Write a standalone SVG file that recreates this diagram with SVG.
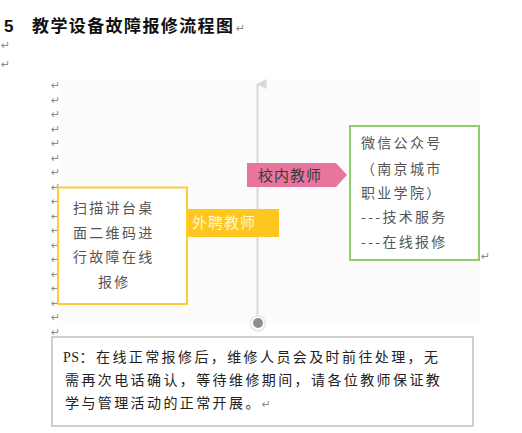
<svg xmlns="http://www.w3.org/2000/svg" width="522" height="433" viewBox="0 0 522 433">
<style>
.rm{font-family:"DejaVu Sans",sans-serif;font-size:11px;fill:#8a8a8a}
.cjk{font-family:"Noto Sans CJK SC",sans-serif}
.box{font-family:"Noto Sans CJK SC",sans-serif;font-size:14px;letter-spacing:2.3px;fill:#555}
.ps{font-family:"Liberation Serif","Noto Sans CJK SC",serif;font-size:14px;letter-spacing:2.4px;fill:#222}
</style>
<defs>
<marker id="ah" viewBox="0 0 10 10" refX="5" refY="1" markerWidth="10" markerHeight="10" markerUnits="userSpaceOnUse" orient="auto-start-reverse">
<path d="M0,10 L5,0 L10,10 Z" fill="#d9d9d9"/>
</marker>
</defs>
<rect width="522" height="433" fill="#fff"/>
<g id="title">
<text x="4" y="32" font-family="Liberation Sans,sans-serif" font-weight="bold" font-size="17" fill="#111">5</text>
<text x="32" y="32" class="cjk" font-weight="bold" font-size="17" letter-spacing="1.4" fill="#111">教学设备故障报修流程图</text>
<text x="236" y="32" class="rm">↵</text>
<text x="1" y="49" class="rm">↵</text>
<text x="1" y="68" class="rm">↵</text>
</g>
<rect x="60" y="80" width="420" height="244" fill="#fcfcfc"/>
<g id="marks">
<text x="51" y="89" class="rm">↵</text><text x="51" y="103.5" class="rm">↵</text><text x="51" y="118" class="rm">↵</text><text x="51" y="132.5" class="rm">↵</text><text x="51" y="147" class="rm">↵</text><text x="51" y="161.5" class="rm">↵</text><text x="51" y="176" class="rm">↵</text><text x="51" y="190.5" class="rm">↵</text><text x="51" y="205" class="rm">↵</text><text x="51" y="219.5" class="rm">↵</text><text x="51" y="234" class="rm">↵</text><text x="51" y="248.5" class="rm">↵</text><text x="51" y="263" class="rm">↵</text><text x="51" y="277.5" class="rm">↵</text><text x="51" y="292" class="rm">↵</text><text x="51" y="306.5" class="rm">↵</text><text x="51" y="321" class="rm">↵</text><text x="51" y="335.5" class="rm">↵</text>
</g>
<g id="connectors">
<line x1="257.5" y1="318" x2="257.5" y2="84" stroke="#d9d9d9" stroke-width="2" marker-end="url(#ah)"/>
</g>
<g id="endpoint">
<circle cx="258" cy="323.5" r="7.5" fill="#fff" stroke="#e4e4e4" stroke-width="1.5"/>
<circle cx="258" cy="323" r="5" fill="#8e8e8e"/>
</g>
<g id="tag-inner">
<path d="M247,163 H336 L347,175 L336,187 H247 Z" fill="#e8759d"/>
<text x="258" y="180.5" class="cjk" font-size="15" letter-spacing="1" fill="#3a3a3a">校内教师</text>
</g>
<g id="tag-outer">
<rect x="187" y="209" width="92" height="28" fill="#ffc61f"/>
<text x="192" y="228" class="cjk" font-size="15" letter-spacing="1" fill="#fff6d8">外聘教师</text>
</g>
<g id="box-scan">
<rect x="58" y="187.5" width="129" height="116.5" fill="#fff" stroke="#ffcc33" stroke-width="2"/>
<text class="box" x="73" y="213">扫描讲台桌</text>
<text class="box" x="73" y="237.5">面二维码进</text>
<text class="box" x="73" y="262">行故障在线</text>
<text class="box" x="98" y="287">报修</text>
</g>
<g id="box-wechat">
<rect x="350" y="126" width="129" height="134" fill="#fff" stroke="#92cc6e" stroke-width="2"/>
<text class="box" x="361" y="148">微信公众号</text>
<text class="box" x="361" y="174">（南京城市</text>
<text class="box" x="361" y="198">职业学院）</text>
<text class="box" x="361" y="222">---技术服务</text>
<text class="box" x="361" y="247">---在线报修</text>
<text x="481" y="260" class="rm">↵</text>
</g>
<g id="box-ps">
<rect x="52" y="337" width="421" height="89" fill="#fff" stroke="#bfbfbf" stroke-width="1.5"/>
<text class="ps" x="63" y="362"><tspan letter-spacing="0.5">PS</tspan>：在线正常报修后，维修人员会及时前往处理，无</text>
<text class="ps" x="65" y="385">需再次电话确认，等待维修期间，请各位教师保证教</text>
<text class="ps" x="65" y="408">学与管理活动的正常开展。<tspan class="rm" letter-spacing="0">↵</tspan></text>
</g>
</svg>
